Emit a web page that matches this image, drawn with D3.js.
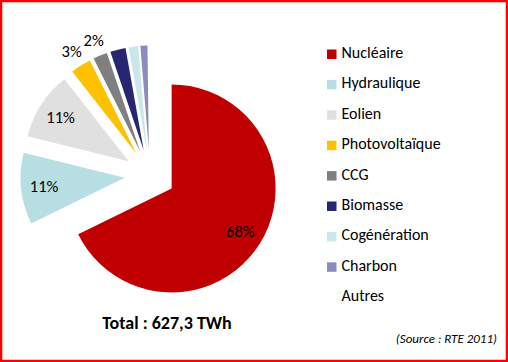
<!DOCTYPE html>
<html>
<head>
<meta charset="utf-8">
<script src="https://cdn.jsdelivr.net/npm/d3@7"></script>
<style>
  html, body { margin: 0; padding: 0; background: #fff; }
  svg text { font-family: Carlito, Lato, "Open Sans", sans-serif; fill: #000; }
</style>
</head>
<body>
<div id="vis"></div>
<script>
// share of each source (percent)
const categories = ["Nucléaire", "Hydraulique", "Eolien", "Photovoltaïque", "CCG", "Biomasse", "Cogénération", "Charbon", "Autres"];
const values = [67.9, 11.1, 10.6, 3.2, 2.2, 2.4, 1.5, 1.1, 0.2];
const colors = ["#C00000", "#B7DEE2", "#E0E0E0", "#FFC000", "#7F7F7F", "#262673", "#CCE7EB", "#8C8CBB", "#FFFFFF"];
// where the percent label goes (null = no label)
const labelPlace = ["in", "in", "in", "out", "out", null, null, null, null];
const totalLabel = "Total : 627,3 TWh";
const sourceLabel = "(Source : RTE 2011)";

const width = 508, height = 362;
const cx = 150, cy = 175;
const radius = 104;
const explode = 25.5;

const svg = d3.select("#vis")
  .append("svg")
  .attr("width", width)
  .attr("height", height);

// red frame
svg.append("rect")
  .attr("x", 1).attr("y", 1)
  .attr("width", width - 2).attr("height", height - 2)
  .attr("fill", "none")
  .attr("stroke", "#FF0000")
  .attr("stroke-width", 2.5);

const pie = d3.pie().sort(null).value(d => d);
const arcs = pie(values);

const arc = d3.arc().innerRadius(0).outerRadius(radius);

// offset of a slice along its middle angle
const offset = (d, r) => {
  const a = (d.startAngle + d.endAngle) / 2;
  return [Math.sin(a) * r, -Math.cos(a) * r];
};

const g = svg.append("g").attr("transform", `translate(${cx},${cy})`);

const slices = g.selectAll(".slice")
  .data(arcs)
  .enter().append("g")
  .attr("class", "slice")
  .attr("transform", d => `translate(${offset(d, explode)})`);

slices.append("path")
  .attr("d", arc)
  .attr("fill", (d, i) => colors[i]);

// percent labels
slices.filter((d, i) => labelPlace[i] !== null)
  .append("text")
  .attr("transform", d => {
    const r = labelPlace[d.index] === "in" ? 81 : 121;
    return `translate(${offset(d, r)})`;
  })
  .attr("text-anchor", "middle")
  .attr("dy", "0.35em")
  .style("font-size", "16.5px")
  .text(d => Math.round(d.value) + "%");

// legend
const legend = svg.append("g").attr("transform", "translate(327,58)");
const item = legend.selectAll(".item")
  .data(categories)
  .enter().append("g")
  .attr("class", "item")
  .attr("transform", (d, i) => `translate(0,${i * 30.4})`);

item.filter((d, i) => colors[i] !== "#FFFFFF")
  .append("rect")
  .attr("x", 0).attr("y", -8.5)
  .attr("width", 9.5).attr("height", 9.5)
  .attr("fill", d => colors[categories.indexOf(d)]);

item.append("text")
  .attr("x", 14.5)
  .attr("y", 0)
  .style("font-size", "16px")
  .text(d => d);

svg.append("text")
  .attr("x", 167).attr("y", 329)
  .attr("text-anchor", "middle")
  .style("font-size", "18px")
  .style("font-weight", "bold")
  .text(totalLabel);

svg.append("text")
  .attr("x", 497).attr("y", 342.5)
  .attr("text-anchor", "end")
  .style("font-size", "13px")
  .style("font-style", "italic")
  .text(sourceLabel);
</script>
</body>
</html>
